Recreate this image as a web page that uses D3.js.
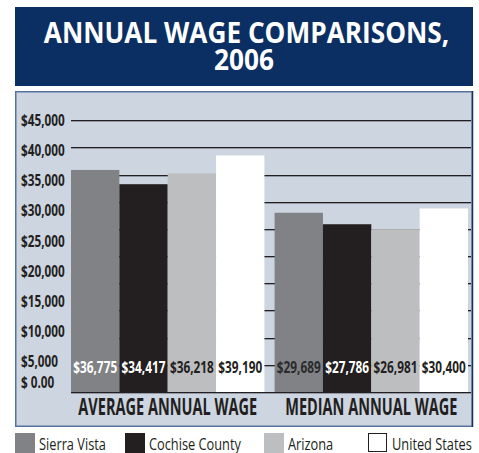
<!DOCTYPE html>
<html>
<head>
<meta charset="utf-8">
<script src="https://cdn.jsdelivr.net/npm/d3@7"></script>
<style>
  body { margin: 0; background: #ffffff; }
  svg { display: block; }
</style>
</head>
<body>
<svg id="chart" width="479" height="453"></svg>
<script>
// ---- data ----
const groups = ["AVERAGE ANNUAL WAGE", "MEDIAN ANNUAL WAGE"];
const series = ["Sierra Vista", "Cochise County", "Arizona", "United States"];
const sierraVista   = [36775, 29689];
const cochiseCounty = [34417, 27786];
const arizona       = [36218, 26981];
const unitedStates  = [39190, 30400];
const yTicks = [0, 5000, 10000, 15000, 20000, 25000, 30000, 35000, 40000, 45000];
const gridValues = [0, 4500, 9000, 13500, 18000, 22500, 27000, 31500, 36000, 40500, 45000];
const titleLines = ["ANNUAL WAGE COMPARISONS,", "2006"];

// ---- styles ----
const seriesColors = ["#808285", "#231f20", "#bcbec0", "#ffffff"];
const valueLabelColors = [
  ["#ffffff", "#ffffff", "#231f20", "#231f20"],
  ["#2b2b2d", "#ffffff", "#231f20", "#231f20"]
];
const ink = "#231f20";
const FONT = "'Open Sans', 'Noto Sans', sans-serif";

const seriesValues = [sierraVista, cochiseCounty, arizona, unitedStates];

const svg = d3.select("#chart");

// Narrow text horizontally (condensed look) by scaling around its anchor point.
function squeeze(sel, k) {
  sel.each(function () {
    const t = d3.select(this);
    const x = +t.attr("x") || 0;
    const y = +t.attr("y") || 0;
    t.attr("x", 0).attr("y", 0)
     .attr("transform", `translate(${x},${y}) scale(${k},1)`);
  });
}

// ---- title banner ----
svg.append("rect")
  .attr("x", 15).attr("y", 7).attr("width", 458).attr("height", 79)
  .attr("fill", "#0b2f63");

const titleScale = 0.92;
const title = svg.append("text")
  .attr("transform", `translate(244,0) scale(${titleScale},1)`)
  .attr("text-anchor", "middle").attr("fill", "#ffffff")
  .attr("font-family", FONT).attr("font-weight", 700).attr("font-size", 28.5);
title.append("tspan").attr("x", 2.5 / titleScale).attr("y", 43.5).text(titleLines[0]);
title.append("tspan").attr("x", 0).attr("y", 70).text(titleLines[1]);

// ---- chart panel ----
svg.append("rect")
  .attr("x", 15.75).attr("y", 91.75).attr("width", 456.5).attr("height", 334.5)
  .attr("fill", "#cdd5e0").attr("stroke", "#56739d").attr("stroke-width", 1.5);
svg.append("line")
  .attr("x1", 472.5).attr("x2", 472.5).attr("y1", 91).attr("y2", 427)
  .attr("stroke", "#16325c").attr("stroke-width", 1.5);

// ---- scales ----
const x0 = d3.scaleBand().domain(groups).range([71, 468]).paddingInner(0.05);
const x1 = d3.scaleBand().domain(series).range([0, x0.bandwidth()]);
const y = d3.scaleLinear().domain([0, 45000]).range([392, 120.3]);

// ---- gridlines (behind bars) ----
const grid = svg.append("g");
grid.selectAll("line.shadow")
  .data(gridValues).join("line").attr("class", "shadow")
  .attr("x1", 71).attr("x2", 471)
  .attr("y1", d => Math.round(y(d)) + 1.5).attr("y2", d => Math.round(y(d)) + 1.5)
  .attr("stroke", "#9299a5").attr("stroke-width", 1);
grid.selectAll("line.main")
  .data(gridValues).join("line").attr("class", "main")
  .attr("x1", 71).attr("x2", 471)
  .attr("y1", d => Math.round(y(d)) + 0.5).attr("y2", d => Math.round(y(d)) + 0.5)
  .attr("stroke", "#231f20").attr("stroke-width", 1.2);

// ---- bars ----
const cells = [];
groups.forEach((g, gi) => {
  series.forEach((s, si) => {
    cells.push({ g, gi, s, si, v: seriesValues[si][gi] });
  });
});

svg.append("g").selectAll("rect")
  .data(cells).join("rect")
  .attr("x", d => x0(d.g) + x1(d.s))
  .attr("y", d => y(d.v))
  .attr("width", x1.bandwidth())
  .attr("height", d => y(0) - y(d.v))
  .attr("fill", d => seriesColors[d.si]);

// ---- value labels ----
const vl = svg.append("g").selectAll("text")
  .data(cells).join("text")
  .attr("x", d => x0(d.g) + x1(d.s) + x1.bandwidth() / 2)
  .attr("y", 372.5)
  .attr("text-anchor", "middle")
  .attr("font-family", FONT).attr("font-weight", 700).attr("font-size", 16)
  .attr("fill", d => valueLabelColors[d.gi][d.si])
  .text(d => "$" + d3.format(",")(d.v));
squeeze(vl, 0.74);

// ---- category labels ----
const cl = svg.append("g").selectAll("text")
  .data(groups).join("text")
  .attr("x", d => x0(d) + x0.bandwidth() / 2)
  .attr("y", 414.5)
  .attr("text-anchor", "middle")
  .attr("font-family", FONT).attr("font-weight", 700).attr("font-size", 22.5)
  .attr("fill", ink)
  .text(d => d);
squeeze(cl, 0.645);

// ---- y axis labels ----
const yAxis = d3.axisRight(y)
  .tickValues(yTicks)
  .tickSize(0).tickPadding(0)
  .tickFormat(d => d === 0 ? "$ 0.00" : "$" + d3.format(",")(d));
const ya = svg.append("g").attr("transform", "translate(21,0)").call(yAxis);
ya.select(".domain").remove();
ya.selectAll("text")
  .attr("font-family", FONT).attr("font-weight", 700).attr("font-size", 15.5)
  .attr("fill", ink)
  .attr("y", d => d === 0 ? -9 : 0);
squeeze(ya.selectAll("text"), 0.76);

// ---- legend ----
const legendX = [15, 125, 264, 368];
const lg = svg.append("g").selectAll("g")
  .data(series).join("g")
  .attr("transform", (d, i) => `translate(${legendX[i]},433)`);
lg.append("rect")
  .attr("x", (d, i) => i === 3 ? 0.5 : 0).attr("y", (d, i) => i === 3 ? 0.5 : 0)
  .attr("width", (d, i) => i === 3 ? 18 : 20).attr("height", (d, i) => i === 3 ? 18 : 20)
  .attr("fill", (d, i) => seriesColors[i])
  .attr("stroke", (d, i) => i === 3 ? ink : "none");
const lt = lg.append("text")
  .attr("x", 24)
  .attr("y", 16.5)
  .attr("font-family", FONT).attr("font-size", 16)
  .attr("fill", ink)
  .text(d => d);
squeeze(lt, 0.8);
</script>
</body>
</html>
